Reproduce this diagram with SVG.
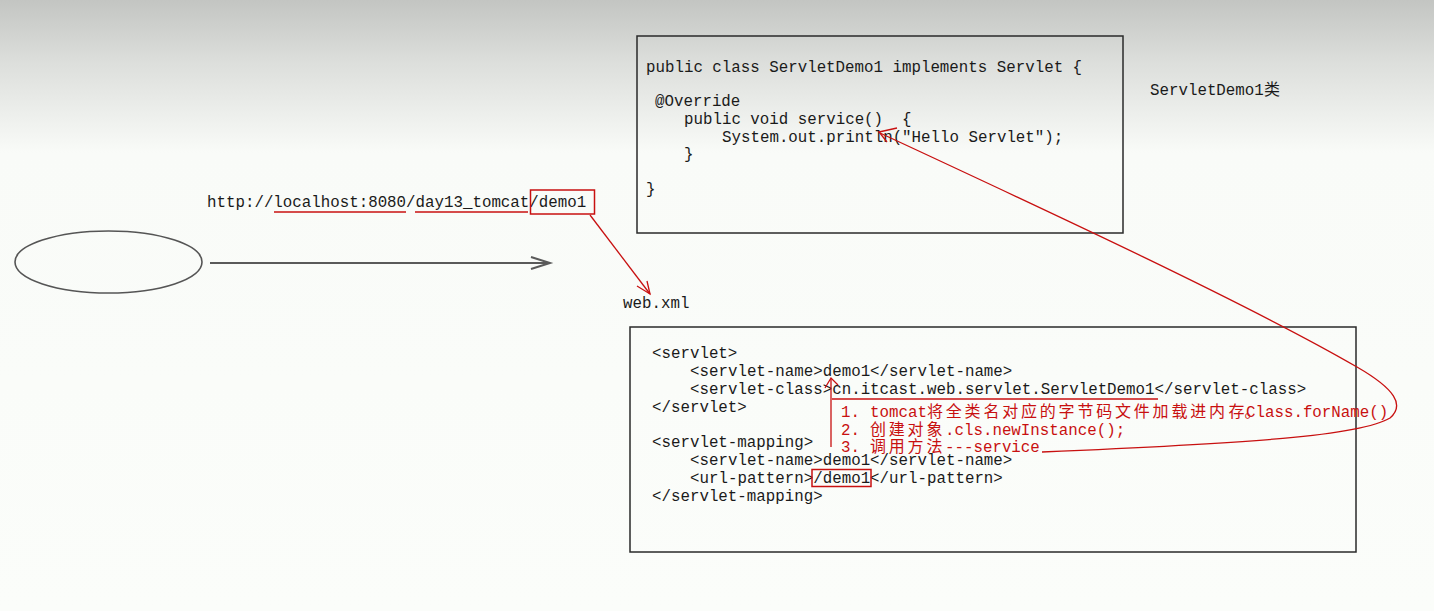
<svg xmlns="http://www.w3.org/2000/svg" width="1434" height="611" viewBox="0 0 1434 611" xml:space="preserve">
<defs>
<linearGradient id="bg" x1="0" y1="0" x2="0" y2="611" gradientUnits="userSpaceOnUse">
<stop offset="0" stop-color="#c3c5c2"/>
<stop offset="0.1" stop-color="#dcdedb"/>
<stop offset="0.25" stop-color="#f9fbf8"/>
<stop offset="1" stop-color="#fbfdfa"/>
</linearGradient>
</defs>
<style>
.code{font-family:"Liberation Mono","DejaVu Sans Mono",monospace;font-size:15.8px;fill:#1a1a1a;white-space:pre}
.red{fill:#c81010}
.cjk{font-family:"Noto Sans CJK SC","Noto Sans CJK JP",sans-serif;font-size:16px}
.box{fill:none;stroke:#2a2a2a;stroke-width:1.5}
.rline{fill:none;stroke:#c81010;stroke-width:1.3}
.gline{fill:none;stroke:#5a5a5a;stroke-width:2}
</style>
<rect x="0" y="0" width="1434" height="611" fill="url(#bg)"/>

<g id="browser">
<ellipse cx="108.5" cy="262" rx="93.5" ry="31" fill="none" stroke="#555" stroke-width="1.6"/>
</g>

<g id="url">
<text class="code" x="207" y="207">http://localhost:8080/day13_tomcat/demo1</text>
<line class="rline" x1="274" y1="212" x2="406" y2="212"/>
<line class="rline" x1="415" y1="212" x2="528" y2="212"/>
<rect x="530.5" y="190" width="64" height="24" fill="none" stroke="#c81010" stroke-width="1.5"/>
</g>

<g id="servletClass">
<rect class="box" x="637" y="36" width="486" height="197"/>
<text class="code" x="646" y="72">public class ServletDemo1 implements Servlet {</text>
<text class="code" x="655" y="106">@Override</text>
<text class="code" x="684" y="124">public void service()  {</text>
<text class="code" x="722" y="142">System.out.println("Hello Servlet");</text>
<text class="code" x="684" y="159">}</text>
<text class="code" x="646" y="194">}</text>
</g>

<g id="classLabel">
<text class="code" x="1150" y="95">ServletDemo1<tspan class="cjk" x="1264">类</tspan></text>
</g>

<g id="webxmlLabel">
<text class="code" x="623" y="308">web.xml</text>
</g>

<g id="webxml">
<rect class="box" x="630" y="327" width="726" height="225"/>
<text class="code" x="652" y="358">&lt;servlet&gt;</text>
<text class="code" x="690" y="376">&lt;servlet-name&gt;demo1&lt;/servlet-name&gt;</text>
<text class="code" x="690" y="394">&lt;servlet-class&gt;cn.itcast.web.servlet.ServletDemo1&lt;/servlet-class&gt;</text>
<text class="code" x="652" y="412">&lt;/servlet&gt;</text>
<text class="code" x="652" y="447">&lt;servlet-mapping&gt;</text>
<text class="code" x="690" y="465">&lt;servlet-name&gt;demo1&lt;/servlet-name&gt;</text>
<text class="code" x="690" y="483">&lt;url-pattern&gt;/demo1&lt;/url-pattern&gt;</text>
<text class="code" x="652" y="501">&lt;/servlet-mapping&gt;</text>
<line class="rline" x1="832" y1="399" x2="1158" y2="399"/>
<rect x="812" y="469.5" width="59" height="17" fill="none" stroke="#c81010" stroke-width="1.5"/>
</g>

<g id="steps">
<text class="code red" x="841" y="417">1.<tspan x="870">tomcat</tspan><tspan class="cjk" x="927 945.8 964.6 983.4 1002.2 1021 1039.8 1058.6 1077.4 1096.2 1115 1133.8 1152.6 1171.4 1190.2 1209 1228.5">将全类名对应的字节码文件加载进内存。</tspan><tspan x="1246">Class.forName()</tspan></text>
<text class="code red" x="841" y="435">2.<tspan class="cjk" x="870 888.8 907.6 926.4">创建对象</tspan><tspan x="945">.cls.newInstance();</tspan></text>
<text class="code red" x="841" y="452">3.<tspan class="cjk" x="870 888.8 907.6 926.4">调用方法</tspan><tspan x="945">---service</tspan></text>
</g>

<g id="connectors">
<line class="gline" x1="210" y1="263" x2="550" y2="263"/>
<path class="gline" d="M531,257 L550,263 L531,269"/>
<line class="rline" x1="590" y1="215" x2="650" y2="294"/>
<path class="rline" d="M637,286 L650,294 L647,281"/>
<path class="rline" d="M831,447 L831,379"/>
<path class="rline" d="M825,388 L831,378 L838,385"/>
<path class="rline" d="M880,133 C1050,212 1250,305 1357,367 C1395,389 1405,405 1390,418 C1360,436 1250,443 1042,452"/>
<path class="rline" d="M897,128 L879,132 L887,142"/>
</g>
</svg>
